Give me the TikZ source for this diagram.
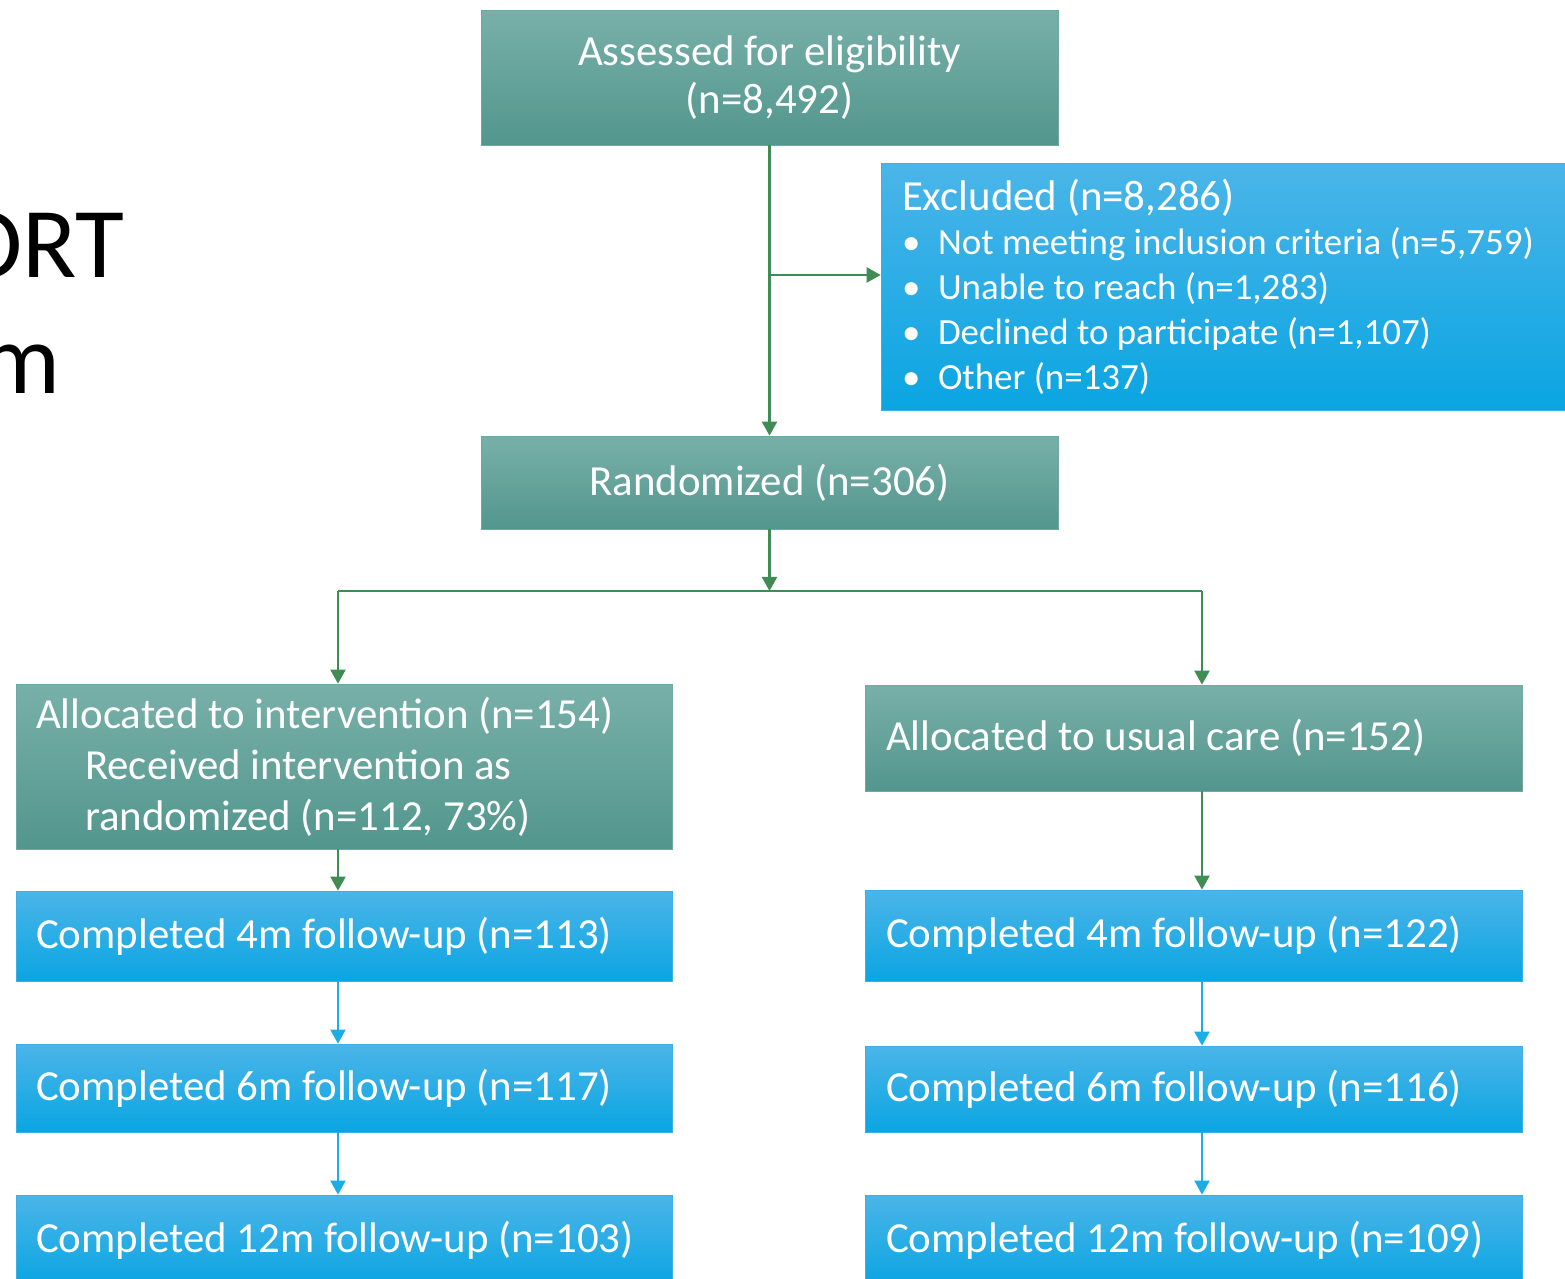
\documentclass[tikz,border=0pt]{standalone}
\usepackage{fontspec}
\setmainfont{Carlito}
\usepackage{tikz}
\usetikzlibrary{arrows.meta}

\definecolor{gtop}{RGB}{120,176,169}
\definecolor{gbot}{RGB}{82,150,141}
\definecolor{gedge}{RGB}{110,170,160}
\definecolor{btop}{RGB}{75,181,232}
\definecolor{bbot}{RGB}{10,165,226}
\definecolor{bedge}{RGB}{60,175,230}
\definecolor{gline}{RGB}{63,140,84}
\definecolor{bline}{RGB}{27,174,230}

\tikzset{
	greenbox/.style={draw=gedge, top color=gtop, bottom color=gbot, text=white, inner sep=0pt,
		font=\fontsize{24.4}{29}\selectfont},
	bluebox/.style={draw=bedge, top color=btop, bottom color=bbot, text=white, inner sep=0pt,
		font=\fontsize{24.4}{29}\selectfont},
	garrow/.style={gline, line width=1.4pt, -{Triangle[width=8.5pt,length=8pt]}},
	barrow/.style={bline, line width=1.3pt, -{Triangle[width=8.5pt,length=8pt]}}
}

\begin{document}
\begin{tikzpicture}[x=0.02cm, y=-0.02cm]
	
	\useasboundingbox (0,0) rectangle (1565,1278);
	
	% TITLE (cut off)
	\node[anchor=base east, inner sep=0pt, font=\fontsize{57}{68}\selectfont] (ttla) at (125,277) {ORT};
	\node[anchor=base east, inner sep=0pt, font=\fontsize{57}{68}\selectfont] (ttlb) at (61,393) {m};
	
	% ENROLMENT
	\node[greenbox, minimum width=11.54cm, minimum height=2.7cm, align=center] (assess) at (769.5,77.5)
		{\raisebox{-2pt}{Assessed for eligibility}\\(n=8,492)};
	\node[bluebox, minimum height=4.94cm, text width=12.84cm, inner xsep=0.42cm, align=flush left] (excl) at (1223,286.5)
		{Excluded (n=8,286)\\
		{\fontsize{21}{25.5}\selectfont
		\makebox[0.72cm][l]{\textbullet}Not meeting inclusion criteria (n=5,759)\\
		\makebox[0.72cm][l]{\textbullet}Unable to reach (n=1,283)\\
		\makebox[0.72cm][l]{\textbullet}Declined to participate (n=1,107)\\
		\makebox[0.72cm][l]{\textbullet}Other (n=137)\par}};
	\node[greenbox, minimum width=11.54cm, minimum height=1.86cm] (rand) at (769.5,482.5) {Randomized (n=306)};
	
	% ALLOCATION
	\node[greenbox, minimum height=3.3cm, text width=12.32cm, inner xsep=0.4cm, align=flush left] (aint) at (344,766.5)
		{Allocated to intervention (n=154)\\
		\hspace*{0.98cm}Received intervention as\\
		\hspace*{0.98cm}randomized (n=112, 73\%)};
	\node[greenbox, minimum height=2.12cm, text width=12.3cm, inner xsep=0.42cm, align=flush left] (ausu) at (1193.5,738)
		{Allocated to usual care (n=152)};
	
	% FOLLOW-UP, intervention
	\node[bluebox, minimum height=1.8cm, text width=12.32cm, inner xsep=0.4cm, align=flush left] (fuia) at (344,936)
		{Completed 4m follow-up (n=113)};
	\node[bluebox, minimum height=1.76cm, text width=12.32cm, inner xsep=0.4cm, align=flush left] (fuib) at (344,1088)
		{Completed 6m follow-up (n=117)};
	\node[bluebox, minimum height=1.8cm, text width=12.32cm, inner xsep=0.4cm, align=flush left] (fuic) at (344,1240)
		{Completed 12m follow-up (n=103)};
	
	% FOLLOW-UP, usual care
	\node[bluebox, minimum height=1.82cm, text width=12.3cm, inner xsep=0.42cm, align=flush left] (fuua) at (1193.5,935.5)
		{Completed 4m follow-up (n=122)};
	\node[bluebox, minimum height=1.72cm, text width=12.3cm, inner xsep=0.42cm, align=flush left] (fuub) at (1193.5,1089)
		{Completed 6m follow-up (n=116)};
	\node[bluebox, minimum height=1.8cm, text width=12.3cm, inner xsep=0.42cm, align=flush left] (fuuc) at (1193.5,1240)
		{Completed 12m follow-up (n=109)};
	
	% CONNECTORS
	\coordinate (exbr) at (769.5,275);
	\coordinate (split) at (769.5,591);
	\coordinate (lcol) at (338,591);
	\coordinate (rcol) at (1202,591);
	
	\draw[garrow] (assess) -- (rand);
	\draw[garrow] (exbr) -- (exbr -| excl.west);
	\draw[garrow] (rand) -- (split);
	\draw[gline, line width=1pt] (lcol) -- (rcol);
	\draw[garrow] (lcol) -- (lcol |- aint.north);
	\draw[garrow] (rcol) -- (rcol |- ausu.north);
	\draw[garrow] (lcol |- aint.south) -- (lcol |- fuia.north);
	\draw[garrow] (rcol |- ausu.south) -- (rcol |- fuua.north);
	
	\draw[barrow] (lcol |- fuia.south) -- (lcol |- fuib.north);
	\draw[barrow] (lcol |- fuib.south) -- (lcol |- fuic.north);
	\draw[barrow] (rcol |- fuua.south) -- (rcol |- fuub.north);
	\draw[barrow] (rcol |- fuub.south) -- (rcol |- fuuc.north);
	
\end{tikzpicture}
\end{document}
